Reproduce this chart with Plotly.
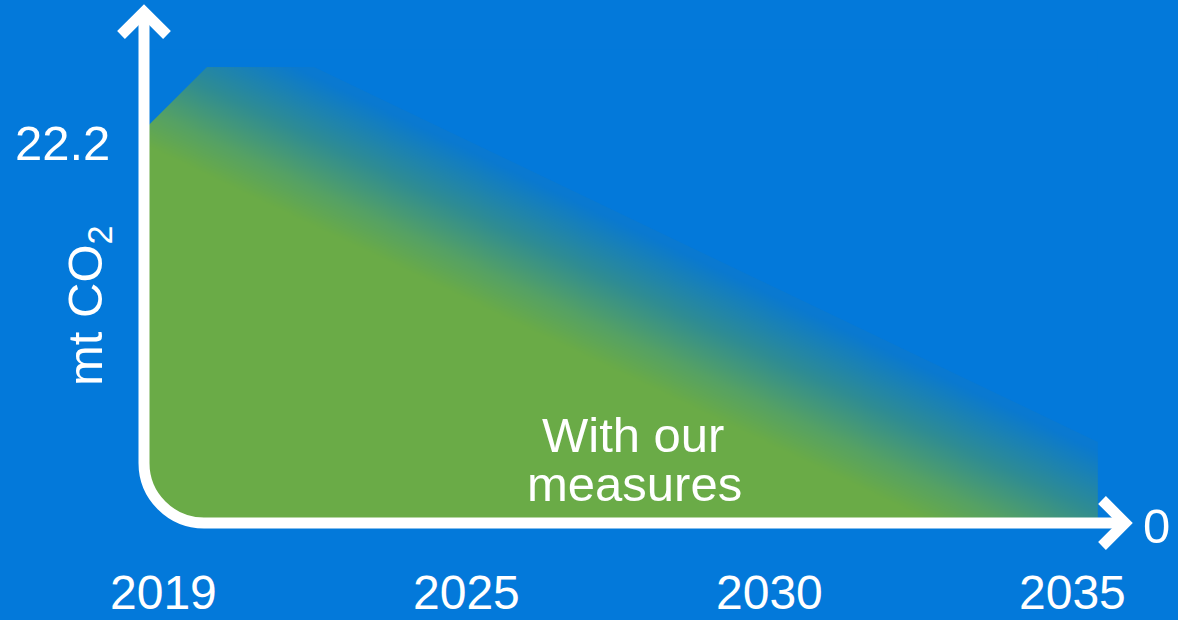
import numpy as np
import plotly.graph_objects as go

# ---------------- data ----------------
tick_labels = ["2019", "2025", "2030", "2035"]          # evenly spaced time labels
tick_pos = [0, 1, 2, 3]
path_x = [-0.05, 0.145, 0.498, 3.082]                    # emission path (time-axis units)
path_y = [22.2, 25.5, 25.5, 4.53]                        # mt CO2
start_label = "22.2"
end_label = "0"
area_label = ["With our", "measures"]

# ---------------- style ----------------
BG = "#0379DA"
GREEN = "#6AAB47"
WHITE = "#FFFFFF"
FONT = "Liberation Sans, Arial, sans-serif"
W, H = 1178, 620

# pixel <-> data helpers (figure spans the whole canvas)
X0PX, XSTEP = 163.0, 303.33
Y0PX, YSTEP = 523.0, 17.88
def fx(px):
    return (px - X0PX) / XSTEP
def fy(py):
    return (Y0PX - py) / YSTEP

fig = go.Figure()

# ---- gradient fill under the path (heatmap of distance below the decline line) ----
nx, ny = 240, 140
xe = np.linspace(path_x[0], path_x[-1], nx + 1)
ye = np.linspace(0, max(path_y), ny + 1)
xc = 0.5 * (xe[:-1] + xe[1:])
yc = 0.5 * (ye[:-1] + ye[1:])
slope = (path_y[3] - path_y[2]) / (path_x[3] - path_x[2])
line_at = path_y[2] + slope * (xc - path_x[2])
d_px = (line_at[None, :] - yc[:, None]) * YSTEP
t = np.clip((d_px - 8.0) / 150.0, 0, 1)

fig.add_trace(go.Heatmap(
    x=xe, y=ye, z=t, zmin=0, zmax=1, zsmooth="best",
    colorscale=[[0, "#0A79D0"], [0.42, "#2F8C93"], [0.75, "#55A165"], [1, GREEN]],
    showscale=False, hoverinfo="skip",
))

# mask everything above the path with background colour
top = max(path_y) + 1
fig.add_trace(go.Scatter(
    x=path_x + [path_x[-1], path_x[0], path_x[0]],
    y=path_y + [top, top, path_y[0]],
    fill="toself", fillcolor=BG, mode="lines", line=dict(width=0, color=BG),
    hoverinfo="skip", showlegend=False,
))

# ---------------- axes decoration ----------------
R = 60.0
k = 0.5523
vx, hy = 144.0, Y0PX
ax_top = 12.0
ax_right = 1125.0

def P(px, py):
    return f"{fx(px):.5f},{fy(py):.5f}"

# corner mask (outside the rounded corner)
corner_mask = (f"M {P(vx, hy - R)} L {P(vx - 6, hy - R)} L {P(vx - 6, hy + 6)} L {P(vx + R, hy + 6)} "
               f"L {P(vx + R, hy)} C {P(vx + R - k * R, hy)} {P(vx, hy - R + k * R)} {P(vx, hy - R)} Z")
fig.add_shape(type="path", path=corner_mask, fillcolor=BG, line=dict(width=0), layer="above")

axis_path = (f"M {P(vx, ax_top)} L {P(vx, hy - R)} "
             f"C {P(vx, hy - R + k * R)} {P(vx + R - k * R, hy)} {P(vx + R, hy)} "
             f"L {P(ax_right, hy)}")
fig.add_shape(type="path", path=axis_path, line=dict(color=WHITE, width=11), layer="above")

arm = 23.0
fig.add_shape(type="path",
              path=f"M {P(vx - arm, ax_top + arm)} L {P(vx, ax_top)} L {P(vx + arm, ax_top + arm)}",
              line=dict(color=WHITE, width=11), layer="above")
fig.add_shape(type="path",
              path=f"M {P(ax_right - arm, hy - arm)} L {P(ax_right, hy)} L {P(ax_right - arm, hy + arm)}",
              line=dict(color=WHITE, width=11), layer="above")

# ---------------- text ----------------
ann = []
for p, lab in zip(tick_pos, tick_labels):
    ann.append(dict(x=p, y=fy(592), text=lab, font_size=48))
ann.append(dict(x=fx(62), y=fy(143), text=start_label))
ann.append(dict(x=fx(1156), y=fy(526), text=end_label))
ann.append(dict(x=fx(633), y=fy(435), text=area_label[0]))
ann.append(dict(x=fx(634), y=fy(484), text=area_label[1]))
ann.append(dict(x=fx(88), y=fy(306), text="mt CO<sub>2</sub>", textangle=-90))
for a in ann:
    size = a.pop("font_size", 49)
    a.update(xref="x", yref="y", showarrow=False, xanchor="center", yanchor="middle",
             font=dict(family=FONT, size=size, color=WHITE))

fig.update_layout(
    width=W, height=H, margin=dict(l=0, r=0, t=0, b=0),
    paper_bgcolor=BG, plot_bgcolor=BG, showlegend=False,
    annotations=ann,
    xaxis=dict(range=[fx(0), fx(W)], visible=False, fixedrange=True),
    yaxis=dict(range=[fy(H), fy(0)], visible=False, fixedrange=True),
)

fig.write_html("out.html")
